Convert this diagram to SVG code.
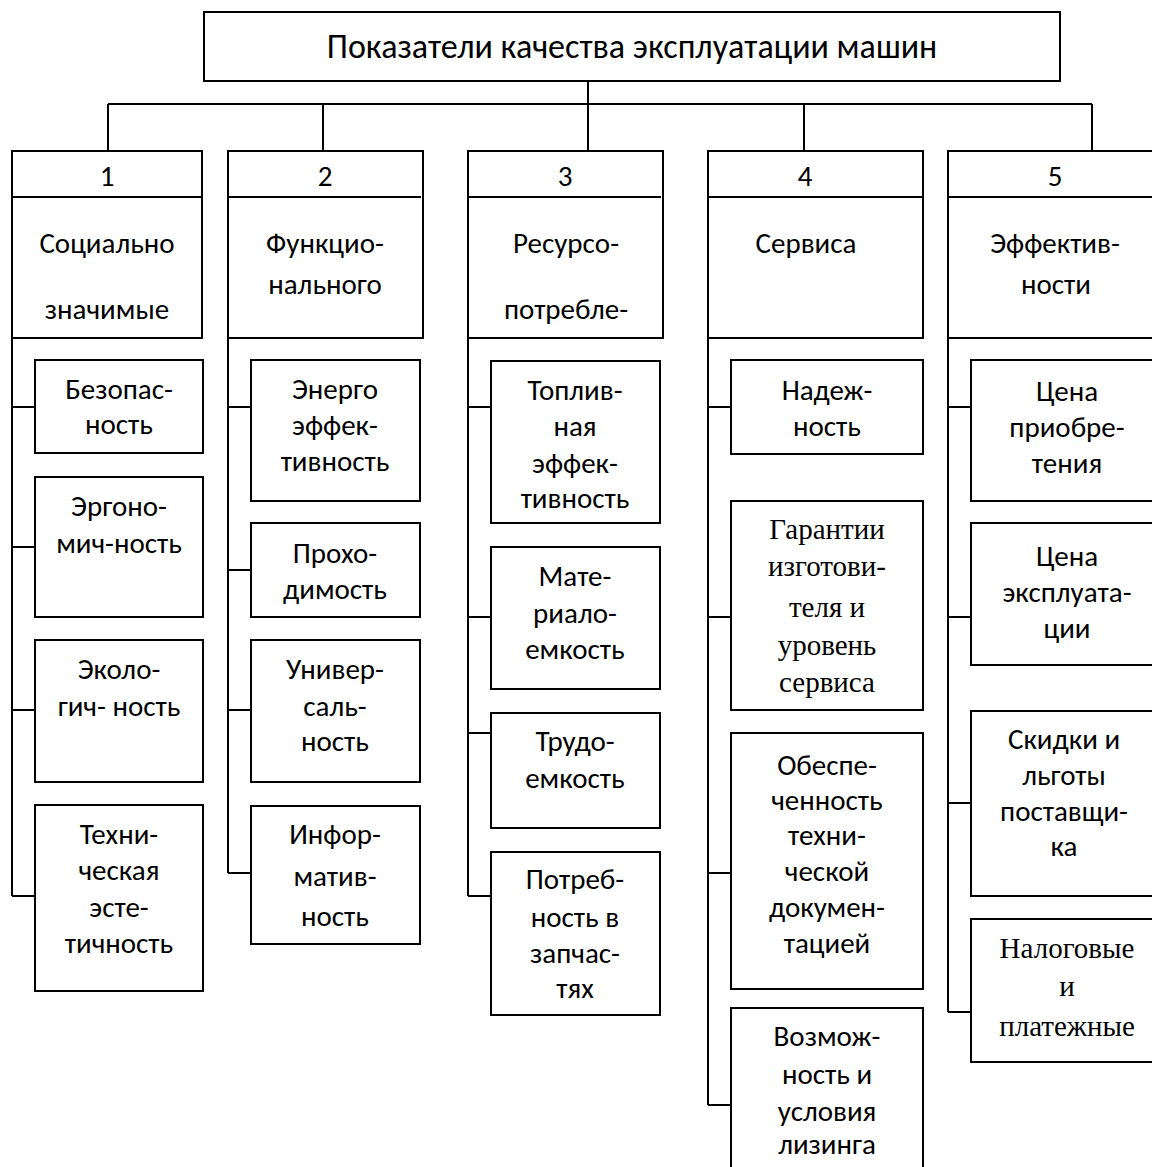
<svg xmlns="http://www.w3.org/2000/svg" width="1152" height="1167" viewBox="0 0 1152 1167">
<style>
  rect { fill: #ffffff; stroke: #000000; stroke-width: 2; }
  .ln { stroke: #000000; stroke-width: 2; fill: none; }
  text { font-family: Carlito, Lato, "Open Sans", "Liberation Sans", sans-serif; font-size: 29px; fill: #000000; text-anchor: middle; }
  .title { font-size: 34px; }
  .serif { font-family: "Liberation Serif", "Times New Roman", serif; font-size: 29px; }
</style>
<rect x="0" y="0" width="1152" height="1167" style="fill:#ffffff;stroke:none"/>
<g id="connectors">
  <path class="ln" d="M588 81 V151 M108 104 H1092 M108 104 V151 M323 104 V151 M804 104 V151 M1092 104 V151"/>
  <path class="ln" d="M12 338 V896 M12 407 H35 M12 547 H35 M12 710 H35 M12 896 H35"/>
  <path class="ln" d="M228 338 V873 M228 407 H251 M228 570 H251 M228 710 H251 M228 873 H251"/>
  <path class="ln" d="M468 338 V896 M468 407 H491 M468 617 H491 M468 733 H491 M468 896 H491"/>
  <path class="ln" d="M708 338 V1105 M708 407 H731 M708 617 H731 M708 873 H731 M708 1105 H731"/>
  <path class="ln" d="M948 338 V1012 M948 407 H971 M948 617 H971 M948 803 H971 M948 1012 H971"/>
</g>
<g id="root">
  <rect x="204" y="12" width="856" height="69"/>
  <text class="title" x="632" y="58">Показатели качества эксплуатации машин</text>
</g>
<g id="cat1">
  <rect x="12" y="151" width="190" height="187"/>
  <line class="ln" x1="12" y1="197" x2="202" y2="197"/>
  <text x="107" y="186">1</text>
  <text x="107" y="253">Социально</text>
  <text x="107" y="319">значимые</text>
</g>
<g id="cat2">
  <rect x="228" y="151" width="195" height="187"/>
  <line class="ln" x1="228" y1="197" x2="421" y2="197"/>
  <text x="325" y="186">2</text>
  <text x="325" y="253">Функцио-</text>
  <text x="325" y="294">нального</text>
</g>
<g id="cat3">
  <rect x="468" y="151" width="195" height="187"/>
  <line class="ln" x1="468" y1="197" x2="661" y2="197"/>
  <text x="565" y="186">3</text>
  <text x="566" y="253">Ресурсо-</text>
  <text x="566" y="319">потребле-</text>
</g>
<g id="cat4">
  <rect x="708" y="151" width="215" height="187"/>
  <line class="ln" x1="708" y1="197" x2="923" y2="197"/>
  <text x="805" y="186">4</text>
  <text x="806" y="253">Сервиса</text>
</g>
<g id="cat5">
  <rect x="948" y="151" width="220" height="187"/>
  <line class="ln" x1="948" y1="197" x2="1168" y2="197"/>
  <text x="1055" y="186">5</text>
  <text x="1055" y="253">Эффектив-</text>
  <text x="1056" y="294">ности</text>
</g>
<g id="c1a"><rect x="35" y="360" width="168" height="93"/><text x="119" y="399">Безопас-</text><text x="119" y="434">ность</text></g>
<g id="c1b"><rect x="35" y="477" width="168" height="140"/><text x="119" y="516">Эргоно-</text><text x="119" y="553">мич-ность</text></g>
<g id="c1c"><rect x="35" y="640" width="168" height="142"/><text x="119" y="679">Эколо-</text><text x="119" y="716">гич- ность</text></g>
<g id="c1d"><rect x="35" y="805" width="168" height="186"/><text x="119" y="844">Техни-</text><text x="119" y="880">ческая</text><text x="119" y="917">эсте-</text><text x="119" y="953">тичность</text></g>
<g id="c2a"><rect x="251" y="360" width="169" height="141"/><text x="335" y="399">Энерго</text><text x="335" y="435">эффек-</text><text x="335" y="471">тивность</text></g>
<g id="c2b"><rect x="251" y="523" width="169" height="94"/><text x="335" y="563">Прохо-</text><text x="335" y="599">димость</text></g>
<g id="c2c"><rect x="251" y="640" width="169" height="142"/><text x="335" y="679">Универ-</text><text x="335" y="716">саль-</text><text x="335" y="751">ность</text></g>
<g id="c2d"><rect x="251" y="806" width="169" height="138"/><text x="335" y="844">Инфор-</text><text x="335" y="886">матив-</text><text x="335" y="926">ность</text></g>
<g id="c3a"><rect x="491" y="361" width="169" height="162"/><text x="575" y="400">Топлив-</text><text x="575" y="436">ная</text><text x="575" y="473">эффек-</text><text x="575" y="508">тивность</text></g>
<g id="c3b"><rect x="491" y="547" width="169" height="142"/><text x="575" y="586">Мате-</text><text x="575" y="623">риало-</text><text x="575" y="659">емкость</text></g>
<g id="c3c"><rect x="491" y="713" width="169" height="115"/><text x="575" y="751">Трудо-</text><text x="575" y="788">емкость</text></g>
<g id="c3d"><rect x="491" y="852" width="169" height="163"/><text x="575" y="889">Потреб-</text><text x="575" y="927">ность в</text><text x="575" y="963">запчас-</text><text x="575" y="998">тях</text></g>
<g id="c4a"><rect x="731" y="360" width="192" height="94"/><text x="827" y="400">Надеж-</text><text x="827" y="436">ность</text></g>
<g id="c4b"><rect x="731" y="501" width="192" height="209"/><text class="serif" x="827" y="539">Гарантии</text><text class="serif" x="827" y="576">изготови-</text><text class="serif" x="827" y="617">теля и</text><text class="serif" x="827" y="655">уровень</text><text class="serif" x="827" y="692">сервиса</text></g>
<g id="c4c"><rect x="731" y="733" width="192" height="256"/><text x="827" y="775">Обеспе-</text><text x="827" y="810">ченность</text><text x="827" y="845">техни-</text><text x="827" y="881">ческой</text><text x="827" y="917">докумен-</text><text x="827" y="953">тацией</text></g>
<g id="c4d"><rect x="731" y="1008" width="192" height="180"/><text x="827" y="1046">Возмож-</text><text x="827" y="1084">ность и</text><text x="827" y="1121">условия</text><text x="827" y="1154">лизинга</text></g>
<g id="c5a"><rect x="971" y="360" width="200" height="141"/><text x="1067" y="401">Цена</text><text x="1067" y="437">приобре-</text><text x="1067" y="473">тения</text></g>
<g id="c5b"><rect x="971" y="523" width="200" height="142"/><text x="1067" y="566">Цена</text><text x="1067" y="602">эксплуата-</text><text x="1067" y="638">ции</text></g>
<g id="c5c"><rect x="971" y="711" width="200" height="185"/><text x="1064" y="749">Скидки и</text><text x="1064" y="785">льготы</text><text x="1064" y="821">поставщи-</text><text x="1064" y="856">ка</text></g>
<g id="c5d"><rect x="971" y="919" width="200" height="143"/><text class="serif" x="1067" y="958">Налоговые</text><text class="serif" x="1067" y="996">и</text><text class="serif" x="1067" y="1036">платежные</text></g>
</svg>
